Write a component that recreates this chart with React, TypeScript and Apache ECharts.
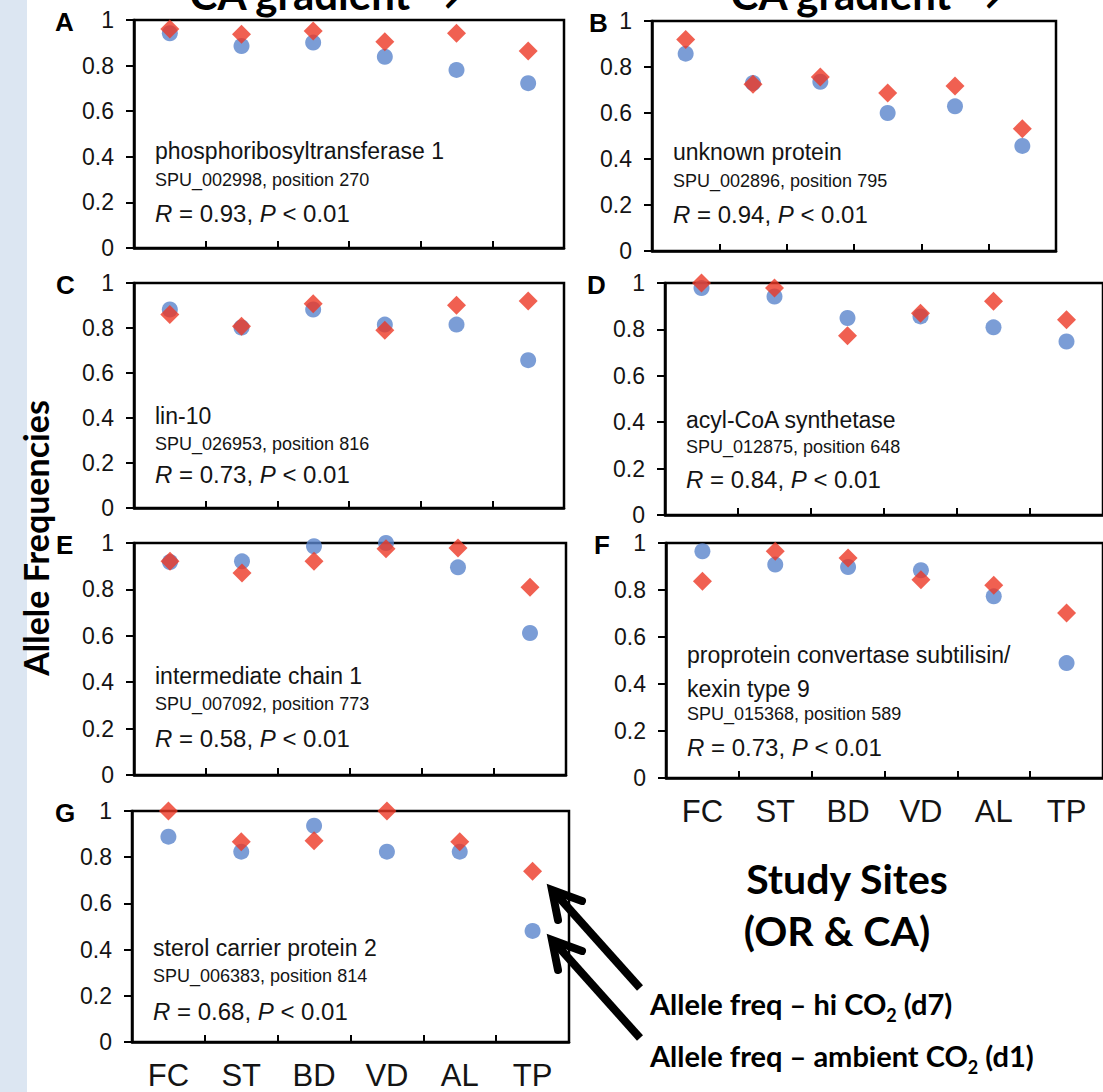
import React, { useEffect, useRef } from 'react';
import * as echarts from 'echarts';

// ---------- data ----------
const sites = ['FC', 'ST', 'BD', 'VD', 'AL', 'TP'];
const panelLetters = ['A', 'B', 'C', 'D', 'E', 'F', 'G'];
const geneNames = [
  ['phosphoribosyltransferase 1'],
  ['unknown protein'],
  ['lin-10'],
  ['acyl-CoA synthetase'],
  ['intermediate chain 1'],
  ['proprotein convertase subtilisin/', 'kexin type 9'],
  ['sterol carrier protein 2'],
];
const spuIds = [
  'SPU_002998, position 270',
  'SPU_002896, position 795',
  'SPU_026953, position 816',
  'SPU_012875, position 648',
  'SPU_007092, position 773',
  'SPU_015368, position 589',
  'SPU_006383, position 814',
];
const rValues = ['0.93', '0.94', '0.73', '0.84', '0.58', '0.73', '0.68'];

// hi CO2 (d7) — red diamonds
const hiA = [0.96, 0.937, 0.952, 0.905, 0.942, 0.864];
const hiB = [0.92, 0.725, 0.757, 0.687, 0.717, 0.532];
const hiC = [0.86, 0.808, 0.908, 0.79, 0.901, 0.92];
const hiD = [1.0, 0.978, 0.773, 0.87, 0.921, 0.842];
const hiE = [0.921, 0.871, 0.921, 0.975, 0.978, 0.809];
const hiF = [0.837, 0.965, 0.936, 0.844, 0.82, 0.702];
const hiG = [1.0, 0.867, 0.871, 1.0, 0.867, 0.739];
// ambient CO2 (d1) — blue circles
const ambA = [0.942, 0.886, 0.901, 0.839, 0.781, 0.723];
const ambB = [0.858, 0.73, 0.736, 0.6, 0.629, 0.457];
const ambC = [0.882, 0.802, 0.882, 0.815, 0.815, 0.657];
const ambD = [0.978, 0.942, 0.849, 0.856, 0.809, 0.748];
const ambE = [0.918, 0.921, 0.986, 1.0, 0.895, 0.612];
const ambF = [0.965, 0.908, 0.898, 0.884, 0.773, 0.489];
const ambG = [0.889, 0.824, 0.936, 0.824, 0.824, 0.481];

const hiSeries = [hiA, hiB, hiC, hiD, hiE, hiF, hiG];
const ambSeries = [ambA, ambB, ambC, ambD, ambE, ambF, ambG];

// ---------- layout / style ----------
const layouts = [
  { left: 134, top: 20, width: 430, height: 228, showX: false, ldx: 79, tx: [139], spu: 166, r: 202 },
  { left: 652, top: 21, width: 404, height: 230, showX: false, ldx: 63, tx: [139], spu: 166, r: 202 },
  { left: 134, top: 283, width: 430, height: 225, showX: false, ldx: 78, tx: [141], spu: 167, r: 200 },
  { left: 665, top: 283, width: 440, height: 232, showX: false, ldx: 78, tx: [145], spu: 170, r: 205 },
  { left: 134, top: 543, width: 432, height: 232, showX: false, ldx: 78, tx: [141], spu: 167, r: 204 },
  { left: 666, top: 543, width: 442, height: 235, showX: true, ldx: 72, tx: [120, 154], spu: 177, r: 213 },
  { left: 132, top: 811, width: 437, height: 231, showX: true, ldx: 77, tx: [145], spu: 171, r: 209 },
];

const ARIAL = '"Liberation Sans", Arial, Helvetica, sans-serif';
const CAL = 'Lato, "Open Sans", sans-serif';
const RED = '#ec3826';
const BLUE = '#5a84cc';
const INK = '#141414';

function textAt(x: number, baseline: number, text: string, fs: number, extra: any = {}) {
  return {
    type: 'text',
    x,
    y: baseline - 0.35 * fs,
    z: 50,
    style: {
      text,
      fontSize: fs,
      fontFamily: ARIAL,
      fill: INK,
      align: 'left',
      verticalAlign: 'middle',
      ...extra,
    },
  };
}

function buildOption() {
  const grid: any[] = [];
  const xAxis: any[] = [];
  const yAxis: any[] = [];
  const series: any[] = [];
  const graphic: any[] = [];

  // light blue strip on the left
  graphic.push({
    type: 'rect',
    shape: { x: 0, y: 0, width: 27, height: 1092 },
    style: { fill: '#dce6f2' },
    z: -10,
  });

  layouts.forEach((L, i) => {
    grid.push({
      left: L.left,
      top: L.top,
      width: L.width,
      height: L.height,
      show: true,
      borderColor: '#000',
      borderWidth: 2.5,
      backgroundColor: 'transparent',
    });
    xAxis.push({
      type: 'category',
      gridIndex: i,
      data: sites,
      boundaryGap: true,
      axisLine: { show: true, lineStyle: { color: '#000', width: 2.5 } },
      axisTick: { show: true, inside: true, length: 7, interval: 0, lineStyle: { color: '#000', width: 2 } },
      axisLabel: {
        show: L.showX,
        interval: 0,
        margin: 18,
        fontSize: 31,
        fontFamily: ARIAL,
        color: INK,
      },
      splitLine: { show: false },
    });
    yAxis.push({
      type: 'value',
      gridIndex: i,
      min: 0,
      max: 1,
      interval: 0.2,
      axisLine: { show: true, lineStyle: { color: '#000', width: 2.5 } },
      axisTick: { show: true, length: 8, lineStyle: { color: '#000', width: 2 } },
      axisLabel: { margin: 20, fontSize: 23, fontFamily: ARIAL, color: INK },
      splitLine: { show: false },
    });
    series.push({
      type: 'scatter',
      name: 'Allele freq – ambient CO2 (d1)',
      xAxisIndex: i,
      yAxisIndex: i,
      data: ambSeries[i],
      symbol: 'circle',
      symbolSize: 16,
      itemStyle: { color: BLUE },
      clip: false,
      z: 3,
    });
    series.push({
      type: 'scatter',
      name: 'Allele freq – hi CO2 (d7)',
      xAxisIndex: i,
      yAxisIndex: i,
      data: hiSeries[i],
      symbol: 'diamond',
      symbolSize: [19, 19],
      itemStyle: { color: RED },
      clip: false,
      z: 4,
    });

    // panel letter
    graphic.push(
      textAt(L.left - L.ldx, L.top + 2 + 0.35 * 26, panelLetters[i], 26, { fontWeight: 'bold', fill: '#000' })
    );
    // texts inside panel
    const x0 = L.left + 21;
    geneNames[i].forEach((g, k) => {
      graphic.push(textAt(x0, L.top + L.tx[k], g, 23));
    });
    graphic.push(textAt(x0, L.top + L.spu, spuIds[i], 18));
    graphic.push(
      textAt(x0, L.top + L.r, `{i|R} = ${rValues[i]}, {i|P} < 0.01`, 24, {
        rich: { i: { fontStyle: 'italic', fontSize: 24, fontFamily: ARIAL, fill: INK } },
      })
    );
  });

  // top titles (cut off by the top edge, as in the source figure)
  ['CA gradient →', 'CA gradient →'].forEach((t, k) => {
    graphic.push({
      type: 'text',
      x: k === 0 ? 326 : 867,
      y: 10 - 0.38 * 42,
      z: 50,
      style: { text: t, fontSize: 42, fontWeight: 'bold', fontFamily: CAL, fill: '#000', align: 'center', verticalAlign: 'middle' },
    });
  });

  // y axis title
  graphic.push({
    type: 'text',
    x: 35,
    y: 538,
    rotation: Math.PI / 2,
    z: 50,
    style: {
      text: 'Allele Frequencies',
      fontSize: 34,
      fontWeight: 'bold',
      fontFamily: CAL,
      fill: '#000',
      align: 'center',
      verticalAlign: 'middle',
    },
  });

  // x axis title
  graphic.push({
    type: 'text', x: 847, y: 878, z: 50,
    style: { text: 'Study Sites', fontSize: 41, fontWeight: 'bold', fontFamily: CAL, fill: '#000', align: 'center', verticalAlign: 'middle' },
  });
  graphic.push({
    type: 'text', x: 837, y: 930, z: 50,
    style: { text: '(OR & CA)', fontSize: 41, fontWeight: 'bold', fontFamily: CAL, fill: '#000', align: 'center', verticalAlign: 'middle' },
  });

  // legend annotations
  const legendRich = {
    m: { fontSize: 29, fontWeight: 'bold', fontFamily: CAL, fill: '#000', lineHeight: 42, verticalAlign: 'middle' },
    s: { fontSize: 18, fontWeight: 'bold', fontFamily: CAL, fill: '#000', lineHeight: 18, verticalAlign: 'bottom' },
  };
  graphic.push({
    type: 'text', x: 650, y: 982, z: 50,
    style: { text: '{m|Allele freq – hi CO}{s|2}{m| (d7)}', rich: legendRich, align: 'left', verticalAlign: 'top' },
  });
  graphic.push({
    type: 'text', x: 650, y: 1034, z: 50,
    style: { text: '{m|Allele freq – ambient CO}{s|2}{m| (d1)}', rich: legendRich, align: 'left', verticalAlign: 'top' },
  });

  // arrows
  const arrow = (tip: number[], tail: number[], a1: number[], a2: number[]) => [
    { type: 'line', z: 60, shape: { x1: tail[0], y1: tail[1], x2: tip[0] + 3, y2: tip[1] + 3 }, style: { stroke: '#000', lineWidth: 8 } },
    { type: 'polyline', z: 60, shape: { points: [a1, tip, a2] }, style: { stroke: '#000', lineWidth: 8, fill: 'none', lineJoin: 'miter', lineCap: 'round' } },
  ];
  graphic.push(...arrow([552, 890], [640, 988], [582, 901], [558, 920]));
  graphic.push(...arrow([552, 940], [640, 1038], [582, 951], [558, 970]));

  return {
    animation: false,
    backgroundColor: '#ffffff',
    grid,
    xAxis,
    yAxis,
    series,
    graphic,
  };
}

export default function App() {
  const ref = useRef<HTMLDivElement>(null);
  useEffect(() => {
    if (!ref.current) return;
    const chart = echarts.init(ref.current, undefined, { renderer: 'svg' });
    chart.setOption(buildOption() as any);
    return () => chart.dispose();
  }, []);
  return (
    <div
      ref={ref}
      style={{ position: 'absolute', left: 0, top: 0, width: 1103, height: 1092, background: '#fff' }}
    />
  );
}
